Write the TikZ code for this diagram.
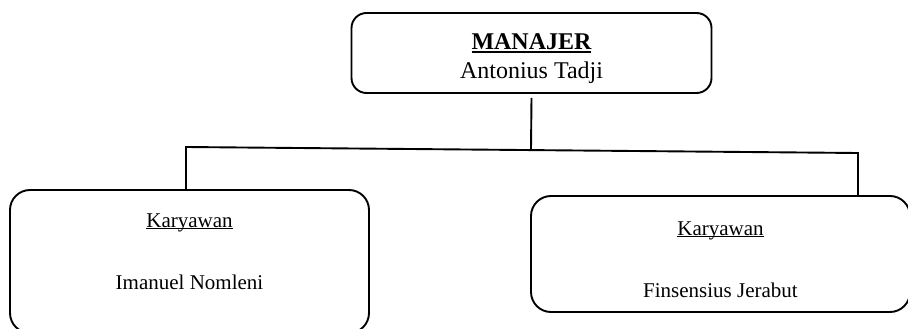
\documentclass[tikz,border=0pt]{standalone}
\usepackage{fontspec}
\setmainfont{Liberation Serif}
\newcommand\myul[3]{\setbox0\hbox{#1}\rlap{\rule[-#2]{\wd0}{#3}}\box0}
\tikzset{
  box/.style={draw, line width=1.9pt, rounded corners=#1, inner sep=0pt},
  conn/.style={line width=1.9pt},
  txt/.style={anchor=base, inner sep=0pt}
}
\begin{document}
\begin{tikzpicture}[x=1pt,y=-1pt]
\useasboundingbox (0,0) rectangle (908,329);
\node[box=15pt, minimum width=360pt, minimum height=80pt] (top) at (531.5,53) {};
\node[box=20pt, minimum width=359pt, minimum height=143pt] (left) at (189.5,261.5) {};
\node[box=20pt, minimum width=379pt, minimum height=116pt] (right) at (720.5,254) {};
\node[txt, font=\fontsize{24}{28}\selectfont\bfseries] (t1) at (531.5,50) {\myul{MANAJER}{3pt}{1.8pt}};
\node[txt, font=\fontsize{24}{28}\selectfont] (t2) at (531.5,78) {Antonius Tadji};
\node[txt, font=\fontsize{21}{25}\selectfont] (l1) at (189.5,227) {\myul{Karyawan}{2pt}{1.2pt}};
\node[txt, font=\fontsize{21}{25}\selectfont] (l2) at (189.5,289) {Imanuel Nomleni};
\node[txt, font=\fontsize{21}{25}\selectfont] (r1) at (720.5,235) {\myul{Karyawan}{2pt}{1.2pt}};
\node[txt, font=\fontsize{21}{25}\selectfont] (r2) at (720.5,297) {Finsensius Jerabut};
\coordinate (jL) at (186,147);
\coordinate (jR) at (858,153);
\coordinate (jM) at (531,149.5);
\draw[conn] ([yshift=-4pt]top.south) -- (jM);
\draw[conn] (left.north -| jL) -- (jL) -- (jR) -- (right.north -| jR);
\end{tikzpicture}
\end{document}
